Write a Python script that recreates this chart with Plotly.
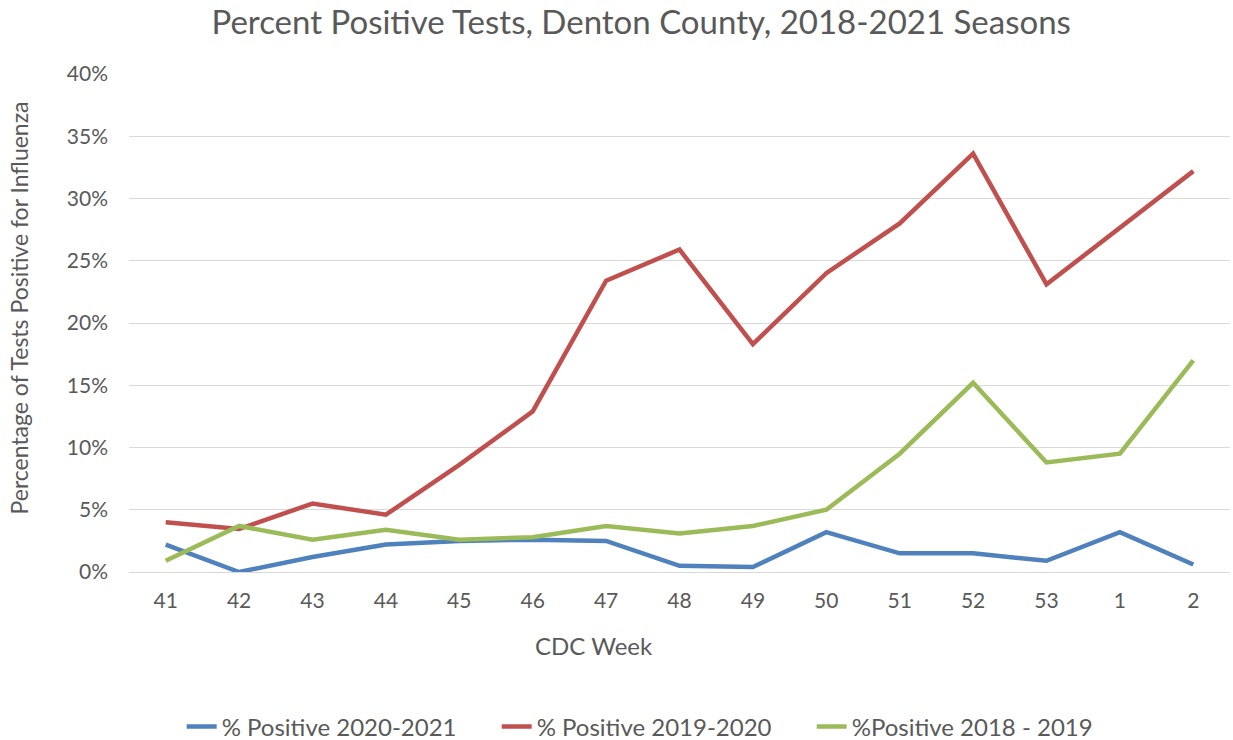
import plotly.graph_objects as go

weeks = ["41", "42", "43", "44", "45", "46", "47", "48", "49", "50", "51", "52", "53", "1", "2"]
pos_2020_2021 = [2.2, 0.0, 1.2, 2.2, 2.5, 2.6, 2.5, 0.5, 0.4, 3.2, 1.5, 1.5, 0.9, 3.2, 0.6]
pos_2019_2020 = [4.0, 3.45, 5.5, 4.6, 8.6, 12.9, 23.4, 25.9, 18.3, 24.0, 28.0, 33.6, 23.1, 27.7, 32.2]
pos_2018_2019 = [0.9, 3.7, 2.6, 3.4, 2.6, 2.8, 3.7, 3.1, 3.7, 5.0, 9.5, 15.2, 8.8, 9.5, 17.0]

names = ["% Positive 2020-2021", "% Positive 2019-2020", "%Positive 2018 - 2019"]
colors = ["#4F81BD", "#C0504D", "#9BBB59"]
series = [pos_2020_2021, pos_2019_2020, pos_2018_2019]

FONT = "Lato, Open Sans, sans-serif"
fig = go.Figure()
for name, color, vals in zip(names, colors, series):
    fig.add_trace(go.Scatter(
        x=weeks, y=[v / 100 for v in vals], mode="lines", name=name,
        line=dict(color=color, width=4.5),
    ))

fig.update_layout(
    width=1233, height=740,
    paper_bgcolor="white", plot_bgcolor="white",
    margin=dict(l=129, r=3, t=74, b=168, autoexpand=False),
    title=dict(text="Percent Positive Tests, Denton County, 2018-2021 Seasons",
               x=0.52, xanchor="center", y=0.970, yanchor="middle",
               font=dict(family=FONT, size=33, color="#595959")),
    font=dict(family=FONT, size=16, color="#595959"),
    showlegend=True,
    legend=dict(orientation="h", x=0.477, xanchor="center", y=-0.311, yanchor="middle",
                font=dict(family=FONT, size=24, color="#595959"),
                entrywidth=270, entrywidthmode="pixels", tracegroupgap=0),
    xaxis=dict(type="category", range=[-0.5, 14.5], showgrid=False,
               showline=True, linecolor="#D9D9D9", linewidth=1, automargin=False,
               ticks="", ticklabelstandoff=10, tickfont=dict(size=21, color="#595959")),
    yaxis=dict(range=[0, 0.4], dtick=0.05, tickformat=".0%", automargin=False,
               showgrid=True, gridcolor="#D9D9D9", gridwidth=1,
               zeroline=False, ticks="", ticklabelstandoff=20,
               tickfont=dict(size=21, color="#595959")),
    annotations=[
        dict(text="CDC Week", xref="paper", yref="paper", x=0.422, y=-0.147,
             xanchor="center", yanchor="middle", showarrow=False,
             font=dict(family=FONT, size=24, color="#595959")),
        dict(text="Percentage of Tests Positive for Influenza", xref="paper", yref="paper",
             x=-0.1, y=0.531, xanchor="center", yanchor="middle", textangle=-90,
             showarrow=False, font=dict(family=FONT, size=23, color="#595959")),
    ],
)

fig.write_html("out.html", config={"displayModeBar": False},
               post_script="document.body.style.margin='0';")
